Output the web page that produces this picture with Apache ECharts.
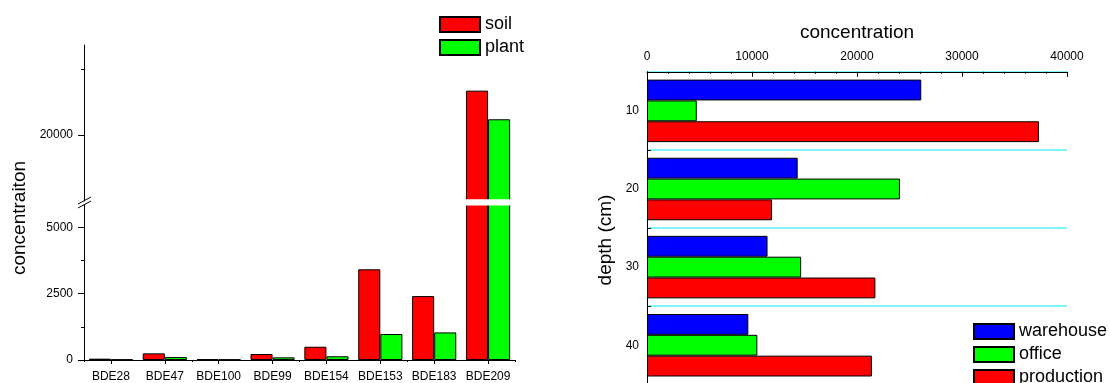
<!DOCTYPE html>
<html>
<head>
<meta charset="utf-8">
<script src="https://cdn.jsdelivr.net/npm/echarts@6.0.0/dist/echarts.min.js"></script>
<style>html,body{margin:0;padding:0;background:#fff;}#c{width:1110px;height:383px;}</style>
</head>
<body>
<div id="c"></div>
<script>
// ---- Left chart data ----
var categories = ['BDE28','BDE47','BDE100','BDE99','BDE154','BDE153','BDE183','BDE209'];
var soil  = [50, 250, 30, 225, 500, 3420, 2410, 23360];
var plant = [20, 110, 20, 100, 140, 980, 1040, 21190];
var lowerTicks = [0, 2500, 5000];
var lowerMinor = [1250, 3750];
var upperTicks = [20000];
var upperMinor = [25000];
// ---- Right chart data ----
var depths = ['10','20','30','40'];
var warehouse  = [26120, 14350, 11480, 9650];
var office     = [4740, 24090, 14680, 10510];
var production = [37330, 11910, 21750, 21420];

var FONT = 'Liberation Sans, Arial, sans-serif';
var RED = '#ff0000', GREEN = '#00ff00', BLUE = '#0000ff';
function plain(v) { return String(v); }
function bar(name, color, data, xi, yi) {
  return {
    type: 'bar', name: name, data: data, xAxisIndex: xi, yAxisIndex: yi,
    barGap: '0%', barCategoryGap: xi === 3 ? '20%' : '18%',
    itemStyle: { color: color, borderColor: '#000', borderWidth: 1 },
    emphasis: { disabled: true }, animation: false
  };
}
var axisLineBlack = { show: true, lineStyle: { color: '#000', width: 1 } };
var legendText = { fontSize: 18, color: '#000', fontFamily: FONT };

var chart = echarts.init(document.getElementById('c'), null, { renderer: 'canvas' });
chart.setOption({
  animation: false,
  textStyle: { fontFamily: FONT },
  legend: [
    { data: ['soil','plant'], orient: 'vertical', left: 439, top: 15.5, height: 60, padding: 0,
      itemWidth: 40, itemHeight: 15, itemGap: 5, icon: 'rect', textStyle: legendText, selectedMode: false },
    { data: ['warehouse','office','production'], orient: 'vertical', left: 973, top: 322.5, height: 100, padding: 0,
      itemWidth: 40, itemHeight: 15, itemGap: 5, icon: 'rect', textStyle: legendText, selectedMode: false }
  ],
  grid: [
    { left: 84, top: 45, width: 431, height: 156, outerBoundsMode: 'none' },
    { left: 84, top: 204.5, width: 431, height: 155.5, outerBoundsMode: 'none' },
    { left: 647, top: 71.8, width: 420, height: 312.5, outerBoundsMode: 'none' }
  ],
  xAxis: [
    { type: 'category', gridIndex: 0, data: categories, show: false },
    { type: 'category', gridIndex: 1, data: categories, position: 'bottom',
      axisLine: axisLineBlack,
      axisTick: { show: true, alignWithLabel: true, length: 4, lineStyle: { color: '#000' } },
      axisLabel: { fontSize: 12, color: '#000', margin: 11, interval: 0, fontFamily: FONT } },
    { type: 'category', gridIndex: 1, data: categories, position: 'bottom',
      axisLine: { show: false }, axisLabel: { show: false },
      axisTick: { show: true, length: 2, lineStyle: { color: '#000' } } },
    { type: 'value', gridIndex: 2, position: 'top', min: 0, max: 40000, interval: 10000,
      axisLine: axisLineBlack,
      axisTick: { show: true, inside: true, length: 5, lineStyle: { color: '#000' } },
      minorTick: { show: true, splitNumber: 5, length: 2, lineStyle: { color: '#000' } },
      splitLine: { show: false },
      axisLabel: { fontSize: 12, color: '#000', margin: 9, fontFamily: FONT, formatter: plain },
      name: 'concentration', nameLocation: 'middle', nameGap: 30,
      nameTextStyle: { fontSize: 19, color: '#000', fontFamily: FONT } }
  ],
  yAxis: [
    { type: 'value', gridIndex: 0, position: 'left', min: 15000, max: 26818,
      axisLine: axisLineBlack, splitLine: { show: false },
      axisTick: { show: true, length: 6, customValues: upperTicks, lineStyle: { color: '#000' } },
      axisLabel: { fontSize: 12, color: '#000', margin: 11, customValues: upperTicks, fontFamily: FONT, formatter: plain } },
    { type: 'value', gridIndex: 0, position: 'left', min: 15000, max: 26818,
      axisLine: { show: false }, splitLine: { show: false }, axisLabel: { show: false },
      axisTick: { show: true, length: 3, customValues: upperMinor, lineStyle: { color: '#000' } } },
    { type: 'value', gridIndex: 1, position: 'left', min: 0, max: 5864,
      axisLine: axisLineBlack, splitLine: { show: false },
      axisTick: { show: true, length: 6, customValues: lowerTicks, lineStyle: { color: '#000' } },
      axisLabel: { fontSize: 12, color: '#000', margin: 11, customValues: lowerTicks, fontFamily: FONT, formatter: plain } },
    { type: 'value', gridIndex: 1, position: 'left', min: 0, max: 5864,
      axisLine: { show: false }, splitLine: { show: false }, axisLabel: { show: false },
      axisTick: { show: true, length: 3, customValues: lowerMinor, lineStyle: { color: '#000' } } },
    { type: 'category', gridIndex: 2, data: depths, inverse: true, position: 'left',
      axisLine: axisLineBlack,
      axisTick: { show: true, inside: true, length: 4, lineStyle: { color: '#000' } },
      splitLine: { show: true, lineStyle: { color: '#55f2fa', width: 1.5 } },
      axisLabel: { fontSize: 12, color: '#000', margin: 8, fontFamily: FONT } }
  ],
  series: [
    bar('soil', RED, soil, 1, 2),
    bar('plant', GREEN, plant, 1, 2),
    bar('soil', RED, soil, 0, 0),
    bar('plant', GREEN, plant, 0, 0),
    bar('warehouse', BLUE, warehouse, 3, 4),
    bar('office', GREEN, office, 3, 4),
    bar('production', RED, production, 3, 4)
  ],
  graphic: [
    { type: 'rect', z: 100, shape: { x: 85.5, y: 199.3, width: 431, height: 6.2 }, style: { fill: '#fff' } },
    { type: 'line', z: 101, shape: { x1: 78, y1: 204, x2: 91, y2: 197 }, style: { stroke: '#000', lineWidth: 1 } },
    { type: 'line', z: 101, shape: { x1: 78, y1: 208, x2: 91, y2: 201 }, style: { stroke: '#000', lineWidth: 1 } },
    { type: 'text', z: 101, x: 19.5, y: 218, rotation: Math.PI / 2,
      style: { text: 'concentraiton', fontSize: 19, fontFamily: FONT, fill: '#000', align: 'center', verticalAlign: 'middle' } },
    { type: 'text', z: 101, x: 606, y: 240, rotation: Math.PI / 2,
      style: { text: 'depth (cm)', fontSize: 19, fontFamily: FONT, fill: '#000', align: 'center', verticalAlign: 'middle' } }
  ]
});
</script>
</body>
</html>
